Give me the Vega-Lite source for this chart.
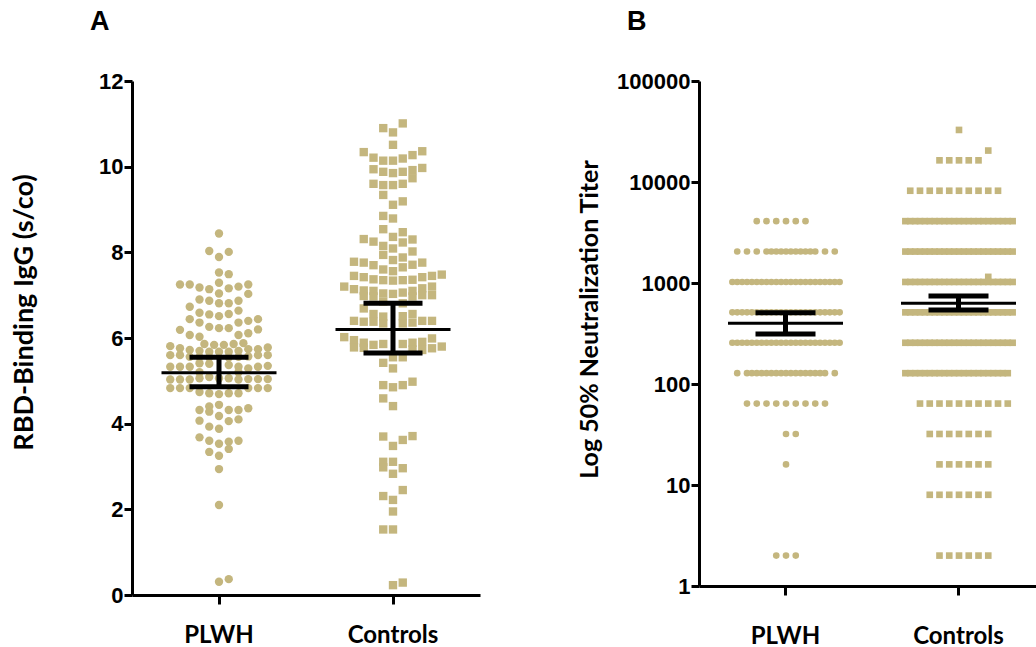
{
  "$schema": "https://vega.github.io/schema/vega-lite/v6.json",
  "padding": {"left": 10, "top": 8, "right": 0, "bottom": 0},
  "background": "white",
  "config": {"view": {"stroke": null}, "axis": {"domainColor": "black", "tickColor": "black", "grid": false}},
  "spacing": 97,
  "datasets": {
    "a_pts": [
      {"g":"PLWH","v":8.44,"c":0},{"g":"PLWH","v":8.03,"c":-1},{"g":"PLWH","v":8.01,"c":1},{"g":"PLWH","v":7.89,"c":0},{"g":"PLWH","v":7.53,"c":0},{"g":"PLWH","v":7.49,"c":1},{"g":"PLWH","v":7.25,"c":-4},{"g":"PLWH","v":7.25,"c":-3},{"g":"PLWH","v":7.29,"c":0},{"g":"PLWH","v":7.25,"c":3},{"g":"PLWH","v":7.18,"c":-2},{"g":"PLWH","v":7.14,"c":-1},{"g":"PLWH","v":7.16,"c":1},{"g":"PLWH","v":7.20,"c":2},{"g":"PLWH","v":7.04,"c":0},{"g":"PLWH","v":7.03,"c":3},{"g":"PLWH","v":6.90,"c":-2},{"g":"PLWH","v":6.87,"c":-1},{"g":"PLWH","v":6.81,"c":0},{"g":"PLWH","v":6.81,"c":1},{"g":"PLWH","v":6.87,"c":2},{"g":"PLWH","v":6.73,"c":-3},{"g":"PLWH","v":6.64,"c":2},{"g":"PLWH","v":6.59,"c":-2},{"g":"PLWH","v":6.55,"c":-1},{"g":"PLWH","v":6.51,"c":0},{"g":"PLWH","v":6.56,"c":1},{"g":"PLWH","v":6.44,"c":-3},{"g":"PLWH","v":6.36,"c":2},{"g":"PLWH","v":6.40,"c":3},{"g":"PLWH","v":6.44,"c":4},{"g":"PLWH","v":6.19,"c":-4},{"g":"PLWH","v":6.07,"c":-3},{"g":"PLWH","v":6.03,"c":-2},{"g":"PLWH","v":6.26,"c":-1},{"g":"PLWH","v":6.23,"c":0},{"g":"PLWH","v":6.23,"c":1},{"g":"PLWH","v":6.07,"c":2},{"g":"PLWH","v":6.11,"c":3},{"g":"PLWH","v":6.20,"c":4},{"g":"PLWH","v":6.36,"c":-2},{"g":"PLWH","v":5.86,"c":-1.5},{"g":"PLWH","v":5.84,"c":-0.5},{"g":"PLWH","v":5.84,"c":0.5},{"g":"PLWH","v":5.86,"c":1.5},{"g":"PLWH","v":5.88,"c":2.5},{"g":"PLWH","v":5.81,"c":-5},{"g":"PLWH","v":5.76,"c":-4},{"g":"PLWH","v":5.72,"c":-3},{"g":"PLWH","v":5.70,"c":-2},{"g":"PLWH","v":5.68,"c":-1},{"g":"PLWH","v":5.68,"c":0},{"g":"PLWH","v":5.68,"c":1},{"g":"PLWH","v":5.70,"c":2},{"g":"PLWH","v":5.74,"c":3},{"g":"PLWH","v":5.74,"c":4},{"g":"PLWH","v":5.78,"c":5},{"g":"PLWH","v":5.60,"c":-5},{"g":"PLWH","v":5.60,"c":-4},{"g":"PLWH","v":5.56,"c":-3},{"g":"PLWH","v":5.56,"c":-2},{"g":"PLWH","v":5.55,"c":-1},{"g":"PLWH","v":5.55,"c":1},{"g":"PLWH","v":5.56,"c":2},{"g":"PLWH","v":5.57,"c":3},{"g":"PLWH","v":5.60,"c":4},{"g":"PLWH","v":5.60,"c":5},{"g":"PLWH","v":5.33,"c":-5},{"g":"PLWH","v":5.33,"c":-4},{"g":"PLWH","v":5.33,"c":-3},{"g":"PLWH","v":5.41,"c":-2},{"g":"PLWH","v":5.40,"c":-1},{"g":"PLWH","v":5.37,"c":1},{"g":"PLWH","v":5.33,"c":2},{"g":"PLWH","v":5.29,"c":3},{"g":"PLWH","v":5.33,"c":4},{"g":"PLWH","v":5.35,"c":5},{"g":"PLWH","v":5.20,"c":-2},{"g":"PLWH","v":5.20,"c":2},{"g":"PLWH","v":5.03,"c":-5},{"g":"PLWH","v":5.03,"c":-4},{"g":"PLWH","v":5.03,"c":-3},{"g":"PLWH","v":5.06,"c":-2},{"g":"PLWH","v":5.09,"c":-1},{"g":"PLWH","v":5.06,"c":0},{"g":"PLWH","v":5.06,"c":1},{"g":"PLWH","v":5.03,"c":2},{"g":"PLWH","v":5.04,"c":3},{"g":"PLWH","v":5.04,"c":4},{"g":"PLWH","v":5.04,"c":5},{"g":"PLWH","v":4.83,"c":-5},{"g":"PLWH","v":4.83,"c":-4},{"g":"PLWH","v":4.83,"c":-3},{"g":"PLWH","v":4.83,"c":4},{"g":"PLWH","v":4.83,"c":5},{"g":"PLWH","v":4.83,"c":3},{"g":"PLWH","v":4.74,"c":-2},{"g":"PLWH","v":4.71,"c":-1},{"g":"PLWH","v":4.69,"c":0},{"g":"PLWH","v":4.71,"c":1},{"g":"PLWH","v":4.71,"c":2},{"g":"PLWH","v":4.32,"c":-2},{"g":"PLWH","v":4.40,"c":-1},{"g":"PLWH","v":4.44,"c":0},{"g":"PLWH","v":4.32,"c":1},{"g":"PLWH","v":4.32,"c":2},{"g":"PLWH","v":4.36,"c":3},{"g":"PLWH","v":4.28,"c":-1},{"g":"PLWH","v":4.18,"c":0},{"g":"PLWH","v":4.07,"c":-2},{"g":"PLWH","v":3.93,"c":-1},{"g":"PLWH","v":3.88,"c":0},{"g":"PLWH","v":4.06,"c":1},{"g":"PLWH","v":4.10,"c":2},{"g":"PLWH","v":3.68,"c":-2},{"g":"PLWH","v":3.60,"c":-1},{"g":"PLWH","v":3.53,"c":0},{"g":"PLWH","v":3.58,"c":1},{"g":"PLWH","v":3.60,"c":2},{"g":"PLWH","v":3.41,"c":1},{"g":"PLWH","v":3.34,"c":-1},{"g":"PLWH","v":3.25,"c":0},{"g":"PLWH","v":2.94,"c":0},{"g":"PLWH","v":2.10,"c":0},{"g":"PLWH","v":0.31,"c":0},{"g":"PLWH","v":0.37,"c":1},
      {"g":"Controls","v":11.01,"c":1},{"g":"Controls","v":10.90,"c":-1},{"g":"Controls","v":10.80,"c":0},{"g":"Controls","v":10.51,"c":0},{"g":"Controls","v":10.34,"c":-3},{"g":"Controls","v":10.36,"c":3},{"g":"Controls","v":10.21,"c":-2},{"g":"Controls","v":10.14,"c":-1},{"g":"Controls","v":10.14,"c":0},{"g":"Controls","v":10.19,"c":1},{"g":"Controls","v":10.27,"c":2},{"g":"Controls","v":9.94,"c":-2},{"g":"Controls","v":9.88,"c":-1},{"g":"Controls","v":9.85,"c":0},{"g":"Controls","v":9.88,"c":1},{"g":"Controls","v":9.92,"c":2},{"g":"Controls","v":9.97,"c":3},{"g":"Controls","v":9.60,"c":-2},{"g":"Controls","v":9.57,"c":-1},{"g":"Controls","v":9.57,"c":0},{"g":"Controls","v":9.60,"c":1},{"g":"Controls","v":9.73,"c":2},{"g":"Controls","v":9.34,"c":-1},{"g":"Controls","v":9.11,"c":0},{"g":"Controls","v":9.19,"c":1},{"g":"Controls","v":8.85,"c":-1},{"g":"Controls","v":8.79,"c":0},{"g":"Controls","v":8.54,"c":-1},{"g":"Controls","v":8.47,"c":1},{"g":"Controls","v":8.36,"c":0},{"g":"Controls","v":8.31,"c":-3},{"g":"Controls","v":8.25,"c":-2},{"g":"Controls","v":8.23,"c":1},{"g":"Controls","v":8.30,"c":2},{"g":"Controls","v":8.15,"c":-1},{"g":"Controls","v":8.09,"c":0},{"g":"Controls","v":8.02,"c":2},{"g":"Controls","v":7.94,"c":-1},{"g":"Controls","v":7.82,"c":0},{"g":"Controls","v":7.88,"c":1},{"g":"Controls","v":7.78,"c":-4},{"g":"Controls","v":7.76,"c":-3},{"g":"Controls","v":7.70,"c":-2},{"g":"Controls","v":7.60,"c":-1},{"g":"Controls","v":7.56,"c":0},{"g":"Controls","v":7.65,"c":1},{"g":"Controls","v":7.71,"c":2},{"g":"Controls","v":7.76,"c":3},{"g":"Controls","v":7.45,"c":-4},{"g":"Controls","v":7.42,"c":-3},{"g":"Controls","v":7.37,"c":-2},{"g":"Controls","v":7.35,"c":-1},{"g":"Controls","v":7.34,"c":0},{"g":"Controls","v":7.35,"c":1},{"g":"Controls","v":7.36,"c":2},{"g":"Controls","v":7.42,"c":3},{"g":"Controls","v":7.45,"c":4},{"g":"Controls","v":7.48,"c":5},{"g":"Controls","v":7.20,"c":-5},{"g":"Controls","v":7.14,"c":-4},{"g":"Controls","v":7.11,"c":-3},{"g":"Controls","v":6.98,"c":-3},{"g":"Controls","v":7.10,"c":-2},{"g":"Controls","v":6.97,"c":-2},{"g":"Controls","v":7.04,"c":-1},{"g":"Controls","v":7.03,"c":0},{"g":"Controls","v":7.06,"c":1},{"g":"Controls","v":7.10,"c":2},{"g":"Controls","v":6.97,"c":2},{"g":"Controls","v":7.16,"c":3},{"g":"Controls","v":7.00,"c":3},{"g":"Controls","v":7.20,"c":4},{"g":"Controls","v":7.00,"c":4},{"g":"Controls","v":6.69,"c":-3},{"g":"Controls","v":6.85,"c":-1},{"g":"Controls","v":6.81,"c":1},{"g":"Controls","v":6.40,"c":-4},{"g":"Controls","v":6.38,"c":-3},{"g":"Controls","v":6.56,"c":-2},{"g":"Controls","v":6.38,"c":-2},{"g":"Controls","v":6.50,"c":-1},{"g":"Controls","v":6.34,"c":-1},{"g":"Controls","v":6.51,"c":1},{"g":"Controls","v":6.34,"c":1},{"g":"Controls","v":6.56,"c":2},{"g":"Controls","v":6.36,"c":2},{"g":"Controls","v":6.40,"c":3},{"g":"Controls","v":6.40,"c":4},{"g":"Controls","v":6.02,"c":-5},{"g":"Controls","v":5.95,"c":-4},{"g":"Controls","v":5.78,"c":-4},{"g":"Controls","v":5.89,"c":-3},{"g":"Controls","v":5.77,"c":-3},{"g":"Controls","v":5.84,"c":-2},{"g":"Controls","v":5.86,"c":-1},{"g":"Controls","v":5.86,"c":1},{"g":"Controls","v":5.89,"c":2},{"g":"Controls","v":5.73,"c":2},{"g":"Controls","v":5.91,"c":3},{"g":"Controls","v":5.72,"c":3},{"g":"Controls","v":5.99,"c":4},{"g":"Controls","v":5.76,"c":4},{"g":"Controls","v":5.80,"c":5},{"g":"Controls","v":5.42,"c":-1},{"g":"Controls","v":5.55,"c":0},{"g":"Controls","v":5.55,"c":1},{"g":"Controls","v":5.29,"c":0},{"g":"Controls","v":4.90,"c":-1},{"g":"Controls","v":4.85,"c":0},{"g":"Controls","v":4.90,"c":1},{"g":"Controls","v":4.98,"c":2},{"g":"Controls","v":4.59,"c":-1},{"g":"Controls","v":4.41,"c":0},{"g":"Controls","v":3.70,"c":-1},{"g":"Controls","v":3.48,"c":0},{"g":"Controls","v":3.62,"c":1},{"g":"Controls","v":3.71,"c":2},{"g":"Controls","v":3.11,"c":-1},{"g":"Controls","v":2.98,"c":-1},{"g":"Controls","v":3.11,"c":0},{"g":"Controls","v":2.83,"c":0},{"g":"Controls","v":2.96,"c":1},{"g":"Controls","v":2.45,"c":1},{"g":"Controls","v":2.31,"c":-1},{"g":"Controls","v":2.22,"c":0},{"g":"Controls","v":1.95,"c":0},{"g":"Controls","v":1.53,"c":-1},{"g":"Controls","v":1.53,"c":0},{"g":"Controls","v":0.23,"c":0},{"g":"Controls","v":0.29,"c":1}
    ],
    "a_stats": [
      {"g":"PLWH","m":5.19,"lo":4.86,"hi":5.55},
      {"g":"Controls","m":6.20,"lo":5.65,"hi":6.81}
    ],
    "b_pts": [
      {"g":"PLWH","v":4096,"c":-3},{"g":"PLWH","v":4096,"c":-2},{"g":"PLWH","v":4096,"c":-1},{"g":"PLWH","v":4096,"c":0},{"g":"PLWH","v":4096,"c":1},{"g":"PLWH","v":4096,"c":2},
      {"g":"PLWH","v":2048,"c":-5},{"g":"PLWH","v":2048,"c":-4},{"g":"PLWH","v":2048,"c":-3},{"g":"PLWH","v":2048,"c":-2},{"g":"PLWH","v":2048,"c":-1.5},{"g":"PLWH","v":2048,"c":-1},{"g":"PLWH","v":2048,"c":-0.5},{"g":"PLWH","v":2048,"c":0},{"g":"PLWH","v":2048,"c":0.5},{"g":"PLWH","v":2048,"c":1},{"g":"PLWH","v":2048,"c":1.5},{"g":"PLWH","v":2048,"c":2},{"g":"PLWH","v":2048,"c":2.5},{"g":"PLWH","v":2048,"c":3},{"g":"PLWH","v":2048,"c":4},{"g":"PLWH","v":2048,"c":5},
      {"g":"PLWH","v":1024,"c":-5.5},{"g":"PLWH","v":1024,"c":-5},{"g":"PLWH","v":1024,"c":-4.5},{"g":"PLWH","v":1024,"c":-4},{"g":"PLWH","v":1024,"c":-3.5},{"g":"PLWH","v":1024,"c":-3},{"g":"PLWH","v":1024,"c":-2.5},{"g":"PLWH","v":1024,"c":-2},{"g":"PLWH","v":1024,"c":-1.5},{"g":"PLWH","v":1024,"c":-1},{"g":"PLWH","v":1024,"c":-0.5},{"g":"PLWH","v":1024,"c":0},{"g":"PLWH","v":1024,"c":0.5},{"g":"PLWH","v":1024,"c":1},{"g":"PLWH","v":1024,"c":1.5},{"g":"PLWH","v":1024,"c":2},{"g":"PLWH","v":1024,"c":2.5},{"g":"PLWH","v":1024,"c":3},{"g":"PLWH","v":1024,"c":3.5},{"g":"PLWH","v":1024,"c":4},{"g":"PLWH","v":1024,"c":4.5},{"g":"PLWH","v":1024,"c":5},{"g":"PLWH","v":1024,"c":5.5},
      {"g":"PLWH","v":512,"c":-5.5},{"g":"PLWH","v":512,"c":-5},{"g":"PLWH","v":512,"c":-4.5},{"g":"PLWH","v":512,"c":-4},{"g":"PLWH","v":512,"c":-3.5},{"g":"PLWH","v":512,"c":-3},{"g":"PLWH","v":512,"c":-2.5},{"g":"PLWH","v":512,"c":-2},{"g":"PLWH","v":512,"c":-1.5},{"g":"PLWH","v":512,"c":-1},{"g":"PLWH","v":512,"c":-0.5},{"g":"PLWH","v":512,"c":0},{"g":"PLWH","v":512,"c":0.5},{"g":"PLWH","v":512,"c":1},{"g":"PLWH","v":512,"c":1.5},{"g":"PLWH","v":512,"c":2},{"g":"PLWH","v":512,"c":2.5},{"g":"PLWH","v":512,"c":3},{"g":"PLWH","v":512,"c":3.5},{"g":"PLWH","v":512,"c":4},{"g":"PLWH","v":512,"c":4.5},{"g":"PLWH","v":512,"c":5},{"g":"PLWH","v":512,"c":5.5},
      {"g":"PLWH","v":256,"c":-5.5},{"g":"PLWH","v":256,"c":-5},{"g":"PLWH","v":256,"c":-4.5},{"g":"PLWH","v":256,"c":-4},{"g":"PLWH","v":256,"c":-3.5},{"g":"PLWH","v":256,"c":-3},{"g":"PLWH","v":256,"c":-2.5},{"g":"PLWH","v":256,"c":-2},{"g":"PLWH","v":256,"c":-1.5},{"g":"PLWH","v":256,"c":-1},{"g":"PLWH","v":256,"c":-0.5},{"g":"PLWH","v":256,"c":0},{"g":"PLWH","v":256,"c":0.5},{"g":"PLWH","v":256,"c":1},{"g":"PLWH","v":256,"c":1.5},{"g":"PLWH","v":256,"c":2},{"g":"PLWH","v":256,"c":2.5},{"g":"PLWH","v":256,"c":3},{"g":"PLWH","v":256,"c":3.5},{"g":"PLWH","v":256,"c":4},{"g":"PLWH","v":256,"c":4.5},{"g":"PLWH","v":256,"c":5},{"g":"PLWH","v":256,"c":5.5},
      {"g":"PLWH","v":128,"c":-5},{"g":"PLWH","v":128,"c":-4},{"g":"PLWH","v":128,"c":-3.5},{"g":"PLWH","v":128,"c":-3},{"g":"PLWH","v":128,"c":-2.5},{"g":"PLWH","v":128,"c":-2},{"g":"PLWH","v":128,"c":-1.5},{"g":"PLWH","v":128,"c":-1},{"g":"PLWH","v":128,"c":-0.5},{"g":"PLWH","v":128,"c":0},{"g":"PLWH","v":128,"c":0.5},{"g":"PLWH","v":128,"c":1},{"g":"PLWH","v":128,"c":1.5},{"g":"PLWH","v":128,"c":2},{"g":"PLWH","v":128,"c":2.5},{"g":"PLWH","v":128,"c":3},{"g":"PLWH","v":128,"c":3.5},{"g":"PLWH","v":128,"c":4},{"g":"PLWH","v":128,"c":5},
      {"g":"PLWH","v":64,"c":-4},{"g":"PLWH","v":64,"c":-3},{"g":"PLWH","v":64,"c":-2},{"g":"PLWH","v":64,"c":-1},{"g":"PLWH","v":64,"c":0},{"g":"PLWH","v":64,"c":1},{"g":"PLWH","v":64,"c":2},{"g":"PLWH","v":64,"c":3},{"g":"PLWH","v":64,"c":4},
      {"g":"PLWH","v":32,"c":0},{"g":"PLWH","v":32,"c":1},
      {"g":"PLWH","v":16,"c":0},
      {"g":"PLWH","v":2,"c":-1},{"g":"PLWH","v":2,"c":0},{"g":"PLWH","v":2,"c":1},
      {"g":"Controls","v":32768,"c":0},
      {"g":"Controls","v":20480,"c":3},
      {"g":"Controls","v":16384,"c":-2},{"g":"Controls","v":16384,"c":-1},{"g":"Controls","v":16384,"c":0},{"g":"Controls","v":16384,"c":1},{"g":"Controls","v":16384,"c":2},
      {"g":"Controls","v":8192,"c":-5},{"g":"Controls","v":8192,"c":-4},{"g":"Controls","v":8192,"c":-3},{"g":"Controls","v":8192,"c":-2},{"g":"Controls","v":8192,"c":-1},{"g":"Controls","v":8192,"c":0},{"g":"Controls","v":8192,"c":1},{"g":"Controls","v":8192,"c":2},{"g":"Controls","v":8192,"c":3},{"g":"Controls","v":8192,"c":4},
      {"g":"Controls","v":4096,"c":-5.5},{"g":"Controls","v":4096,"c":-5},{"g":"Controls","v":4096,"c":-4.5},{"g":"Controls","v":4096,"c":-4},{"g":"Controls","v":4096,"c":-3.5},{"g":"Controls","v":4096,"c":-3},{"g":"Controls","v":4096,"c":-2.5},{"g":"Controls","v":4096,"c":-2},{"g":"Controls","v":4096,"c":-1.5},{"g":"Controls","v":4096,"c":-1},{"g":"Controls","v":4096,"c":-0.5},{"g":"Controls","v":4096,"c":0},{"g":"Controls","v":4096,"c":0.5},{"g":"Controls","v":4096,"c":1},{"g":"Controls","v":4096,"c":1.5},{"g":"Controls","v":4096,"c":2},{"g":"Controls","v":4096,"c":2.5},{"g":"Controls","v":4096,"c":3},{"g":"Controls","v":4096,"c":3.5},{"g":"Controls","v":4096,"c":4},{"g":"Controls","v":4096,"c":4.5},{"g":"Controls","v":4096,"c":5},{"g":"Controls","v":4096,"c":5.5},
      {"g":"Controls","v":2048,"c":-5.5},{"g":"Controls","v":2048,"c":-5},{"g":"Controls","v":2048,"c":-4.5},{"g":"Controls","v":2048,"c":-4},{"g":"Controls","v":2048,"c":-3.5},{"g":"Controls","v":2048,"c":-3},{"g":"Controls","v":2048,"c":-2.5},{"g":"Controls","v":2048,"c":-2},{"g":"Controls","v":2048,"c":-1.5},{"g":"Controls","v":2048,"c":-1},{"g":"Controls","v":2048,"c":-0.5},{"g":"Controls","v":2048,"c":0},{"g":"Controls","v":2048,"c":0.5},{"g":"Controls","v":2048,"c":1},{"g":"Controls","v":2048,"c":1.5},{"g":"Controls","v":2048,"c":2},{"g":"Controls","v":2048,"c":2.5},{"g":"Controls","v":2048,"c":3},{"g":"Controls","v":2048,"c":3.5},{"g":"Controls","v":2048,"c":4},{"g":"Controls","v":2048,"c":4.5},{"g":"Controls","v":2048,"c":5},{"g":"Controls","v":2048,"c":5.5},
      {"g":"Controls","v":1024,"c":-5.5},{"g":"Controls","v":1024,"c":-5},{"g":"Controls","v":1024,"c":-4.5},{"g":"Controls","v":1024,"c":-4},{"g":"Controls","v":1024,"c":-3.5},{"g":"Controls","v":1024,"c":-3},{"g":"Controls","v":1024,"c":-2.5},{"g":"Controls","v":1024,"c":-2},{"g":"Controls","v":1024,"c":-1.5},{"g":"Controls","v":1024,"c":-1},{"g":"Controls","v":1024,"c":-0.5},{"g":"Controls","v":1024,"c":0},{"g":"Controls","v":1024,"c":0.5},{"g":"Controls","v":1024,"c":1},{"g":"Controls","v":1024,"c":1.5},{"g":"Controls","v":1024,"c":2},{"g":"Controls","v":1024,"c":2.5},{"g":"Controls","v":1024,"c":3},{"g":"Controls","v":1024,"c":3.5},{"g":"Controls","v":1024,"c":4},{"g":"Controls","v":1024,"c":4.5},{"g":"Controls","v":1024,"c":5},{"g":"Controls","v":1024,"c":5.5},
      {"g":"Controls","v":1150,"c":3},
      {"g":"Controls","v":512,"c":-5.5},{"g":"Controls","v":512,"c":-5},{"g":"Controls","v":512,"c":-4.5},{"g":"Controls","v":512,"c":-4},{"g":"Controls","v":512,"c":-3.5},{"g":"Controls","v":512,"c":-3},{"g":"Controls","v":512,"c":-2.5},{"g":"Controls","v":512,"c":-2},{"g":"Controls","v":512,"c":-1.5},{"g":"Controls","v":512,"c":-1},{"g":"Controls","v":512,"c":-0.5},{"g":"Controls","v":512,"c":0},{"g":"Controls","v":512,"c":0.5},{"g":"Controls","v":512,"c":1},{"g":"Controls","v":512,"c":1.5},{"g":"Controls","v":512,"c":2},{"g":"Controls","v":512,"c":2.5},{"g":"Controls","v":512,"c":3},{"g":"Controls","v":512,"c":3.5},{"g":"Controls","v":512,"c":4},{"g":"Controls","v":512,"c":4.5},{"g":"Controls","v":512,"c":5},{"g":"Controls","v":512,"c":5.5},
      {"g":"Controls","v":256,"c":-5.5},{"g":"Controls","v":256,"c":-5},{"g":"Controls","v":256,"c":-4.5},{"g":"Controls","v":256,"c":-4},{"g":"Controls","v":256,"c":-3.5},{"g":"Controls","v":256,"c":-3},{"g":"Controls","v":256,"c":-2.5},{"g":"Controls","v":256,"c":-2},{"g":"Controls","v":256,"c":-1.5},{"g":"Controls","v":256,"c":-1},{"g":"Controls","v":256,"c":-0.5},{"g":"Controls","v":256,"c":0},{"g":"Controls","v":256,"c":0.5},{"g":"Controls","v":256,"c":1},{"g":"Controls","v":256,"c":1.5},{"g":"Controls","v":256,"c":2},{"g":"Controls","v":256,"c":2.5},{"g":"Controls","v":256,"c":3},{"g":"Controls","v":256,"c":3.5},{"g":"Controls","v":256,"c":4},{"g":"Controls","v":256,"c":4.5},{"g":"Controls","v":256,"c":5},{"g":"Controls","v":256,"c":5.5},
      {"g":"Controls","v":128,"c":-5.5},{"g":"Controls","v":128,"c":-5},{"g":"Controls","v":128,"c":-4.5},{"g":"Controls","v":128,"c":-4},{"g":"Controls","v":128,"c":-3.5},{"g":"Controls","v":128,"c":-3},{"g":"Controls","v":128,"c":-2.5},{"g":"Controls","v":128,"c":-2},{"g":"Controls","v":128,"c":-1.5},{"g":"Controls","v":128,"c":-1},{"g":"Controls","v":128,"c":-0.5},{"g":"Controls","v":128,"c":0},{"g":"Controls","v":128,"c":0.5},{"g":"Controls","v":128,"c":1},{"g":"Controls","v":128,"c":1.5},{"g":"Controls","v":128,"c":2},{"g":"Controls","v":128,"c":2.5},{"g":"Controls","v":128,"c":3},{"g":"Controls","v":128,"c":3.5},{"g":"Controls","v":128,"c":4},{"g":"Controls","v":128,"c":4.5},{"g":"Controls","v":128,"c":5},
      {"g":"Controls","v":64,"c":-4},{"g":"Controls","v":64,"c":-3},{"g":"Controls","v":64,"c":-2},{"g":"Controls","v":64,"c":-1},{"g":"Controls","v":64,"c":0},{"g":"Controls","v":64,"c":1},{"g":"Controls","v":64,"c":2},{"g":"Controls","v":64,"c":3},{"g":"Controls","v":64,"c":4},{"g":"Controls","v":64,"c":5},
      {"g":"Controls","v":32,"c":-3},{"g":"Controls","v":32,"c":-2},{"g":"Controls","v":32,"c":-1},{"g":"Controls","v":32,"c":0},{"g":"Controls","v":32,"c":1},{"g":"Controls","v":32,"c":2},{"g":"Controls","v":32,"c":3},
      {"g":"Controls","v":16,"c":-2},{"g":"Controls","v":16,"c":-1},{"g":"Controls","v":16,"c":0},{"g":"Controls","v":16,"c":1},{"g":"Controls","v":16,"c":2},{"g":"Controls","v":16,"c":3},
      {"g":"Controls","v":8,"c":-3},{"g":"Controls","v":8,"c":-2},{"g":"Controls","v":8,"c":-1},{"g":"Controls","v":8,"c":0},{"g":"Controls","v":8,"c":1},{"g":"Controls","v":8,"c":2},{"g":"Controls","v":8,"c":3},
      {"g":"Controls","v":2,"c":-2},{"g":"Controls","v":2,"c":-1},{"g":"Controls","v":2,"c":0},{"g":"Controls","v":2,"c":1},{"g":"Controls","v":2,"c":2},{"g":"Controls","v":2,"c":3}
    ],
    "b_stats": [
      {"g":"PLWH","m":399,"lo":313,"hi":508},
      {"g":"Controls","m":630,"lo":541,"hi":743}
    ]
  },
  "hconcat": [
    {
      "width": 348,
      "height": 514,
      "title": {"text": "A", "anchor": "start", "frame": "group", "dx": -42, "offset": 34, "font": "Liberation Sans", "fontSize": 27, "fontWeight": "bold", "color": "black"},
      "layer": [
        {
          "data": {"name": "a_pts"},
          "mark": {"type": "point", "filled": true, "opacity": 1, "size": 70, "color": "#C4B67E", "strokeWidth": 0},
          "encoding": {
            "x": {"field": "g", "type": "nominal", "sort": ["PLWH", "Controls"], "scale": {"paddingInner": 0, "paddingOuter": 0},
                  "axis": {"title": null, "labelAngle": 0, "labelFont": "Lato", "labelFontWeight": "bold", "labelFontSize": 24, "labelColor": "black", "labelPadding": 19, "tickSize": 9, "tickWidth": 3, "domainWidth": 3}},
            "xOffset": {"field": "c", "type": "quantitative", "scale": {"domain": [-8.7, 8.7]}},
            "y": {"field": "v", "type": "quantitative", "scale": {"domain": [0, 12], "nice": false, "zero": false},
                  "axis": {"values": [0, 2, 4, 6, 8, 10, 12], "title": "RBD-Binding IgG (s/co)", "titleFont": "Lato", "titleFontSize": 27, "titleFontWeight": "bold", "titleColor": "black", "titlePadding": 60, "titleY": 231, "labelFont": "Liberation Sans", "labelFontSize": 22, "labelFontWeight": "bold", "labelColor": "black", "labelPadding": 1, "tickSize": 8, "tickWidth": 3, "domainWidth": 3}},
            "shape": {"field": "g", "type": "nominal", "scale": {"domain": ["PLWH", "Controls"], "range": ["circle", "square"]}, "legend": null}
          }
        },
        {
          "mark": {"type": "rule", "color": "black", "strokeWidth": 3, "strokeDash": [10, 6]},
          "encoding": {"y": {"datum": 1.1}}
        },
        {
          "data": {"name": "a_stats"},
          "mark": {"type": "tick", "color": "black", "size": 115, "thickness": 3, "opacity": 1},
          "encoding": {"x": {"field": "g", "type": "nominal", "sort": ["PLWH", "Controls"]}, "y": {"field": "m", "type": "quantitative"}}
        },
        {
          "data": {"name": "a_stats"},
          "mark": {"type": "tick", "color": "black", "size": 59, "thickness": 5, "opacity": 1},
          "encoding": {"x": {"field": "g", "type": "nominal", "sort": ["PLWH", "Controls"]}, "y": {"field": "lo", "type": "quantitative"}}
        },
        {
          "data": {"name": "a_stats"},
          "mark": {"type": "tick", "color": "black", "size": 59, "thickness": 5, "opacity": 1},
          "encoding": {"x": {"field": "g", "type": "nominal", "sort": ["PLWH", "Controls"]}, "y": {"field": "hi", "type": "quantitative"}}
        },
        {
          "data": {"name": "a_stats"},
          "mark": {"type": "rule", "color": "black", "strokeWidth": 5},
          "encoding": {"x": {"field": "g", "type": "nominal", "sort": ["PLWH", "Controls"]}, "y": {"field": "lo", "type": "quantitative"}, "y2": {"field": "hi"}}
        }
      ]
    },
    {
      "width": 346,
      "height": 505,
      "title": {"text": "B", "anchor": "start", "frame": "group", "dx": -72, "offset": 34, "font": "Liberation Sans", "fontSize": 27, "fontWeight": "bold", "color": "black"},
      "layer": [
        {
          "data": {"name": "b_pts"},
          "mark": {"type": "point", "filled": true, "opacity": 1, "size": 44, "color": "#C4B67E", "strokeWidth": 0},
          "encoding": {
            "x": {"field": "g", "type": "nominal", "sort": ["PLWH", "Controls"], "scale": {"paddingInner": 0, "paddingOuter": 0},
                  "axis": {"title": null, "labelAngle": 0, "labelFont": "Lato", "labelFontWeight": "bold", "labelFontSize": 24, "labelColor": "black", "labelPadding": 29, "tickSize": 9, "tickWidth": 3, "domainWidth": 3}},
            "xOffset": {"field": "c", "type": "quantitative", "scale": {"domain": [-8.92, 8.92]}},
            "y": {"field": "v", "type": "quantitative", "scale": {"type": "log", "domain": [1, 100000], "nice": false},
                  "axis": {"values": [1, 10, 100, 1000, 10000, 100000], "format": "d", "title": "Log 50% Neutralization Titer", "titleFont": "Lato", "titleFontSize": 25, "titleFontWeight": "bold", "titleColor": "black", "titlePadding": 14, "titleY": 238, "labelFont": "Liberation Sans", "labelFontSize": 22, "labelFontWeight": "bold", "labelColor": "black", "labelPadding": 1, "tickSize": 8, "tickWidth": 3, "domainWidth": 3}},
            "shape": {"field": "g", "type": "nominal", "scale": {"domain": ["PLWH", "Controls"], "range": ["circle", "square"]}, "legend": null}
          }
        },
        {
          "mark": {"type": "rule", "color": "black", "strokeWidth": 3, "strokeDash": [10, 6]},
          "encoding": {"y": {"datum": 10}}
        },
        {
          "data": {"name": "b_stats"},
          "mark": {"type": "tick", "color": "black", "size": 115, "thickness": 3, "opacity": 1},
          "encoding": {"x": {"field": "g", "type": "nominal", "sort": ["PLWH", "Controls"]}, "y": {"field": "m", "type": "quantitative"}}
        },
        {
          "data": {"name": "b_stats"},
          "mark": {"type": "tick", "color": "black", "size": 60, "thickness": 5, "opacity": 1},
          "encoding": {"x": {"field": "g", "type": "nominal", "sort": ["PLWH", "Controls"]}, "y": {"field": "lo", "type": "quantitative"}}
        },
        {
          "data": {"name": "b_stats"},
          "mark": {"type": "tick", "color": "black", "size": 60, "thickness": 5, "opacity": 1},
          "encoding": {"x": {"field": "g", "type": "nominal", "sort": ["PLWH", "Controls"]}, "y": {"field": "hi", "type": "quantitative"}}
        },
        {
          "data": {"name": "b_stats"},
          "mark": {"type": "rule", "color": "black", "strokeWidth": 5},
          "encoding": {"x": {"field": "g", "type": "nominal", "sort": ["PLWH", "Controls"]}, "y": {"field": "lo", "type": "quantitative"}, "y2": {"field": "hi"}}
        }
      ]
    }
  ]
}
